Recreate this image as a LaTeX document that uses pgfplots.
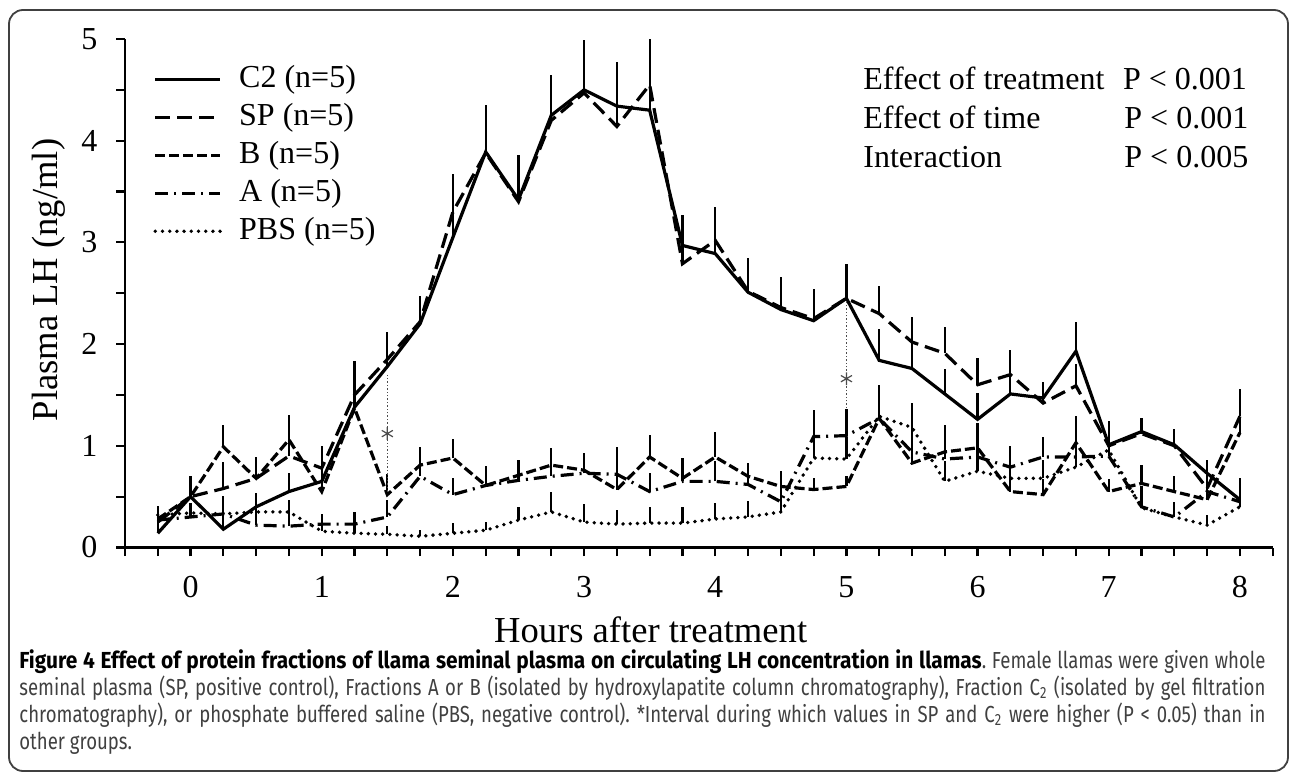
\documentclass[border=0pt]{standalone}
\usepackage{fontspec}
\setmainfont{Liberation Serif}
\newfontfamily\capfont[FakeStretch=0.8, BoldFeatures={FakeStretch=0.9}]{Fira Sans}
\usepackage{pgfplots}
\pgfplotsset{compat=1.18}
\usepackage{pgfplotstable}

\pgfplotstableread{
x c2 c2e sp spe b be a ae pbs pbse
-0.25 0.14 0.27 0.25 0.12 0.28 0.12 0.27 0.12 0.32 0.08
0 0.50 0.20 0.50 0.15 0.50 0.15 0.30 0.10 0.34 0.10
0.25 0.18 0.30 0.58 0.26 0.99 0.21 0.33 0.18 0.33 0.10
0.5 0.40 0.14 0.68 0.20 0.68 0.21 0.22 0.15 0.35 0.10
0.75 0.55 0.18 0.90 0.20 1.06 0.24 0.21 0.15 0.35 0.12
1 0.65 0.35 0.78 0.22 0.55 0.45 0.23 0.10 0.16 0.08
1.25 1.38 0.45 1.50 0.30 1.37 0.30 0.23 0.12 0.14 0.08
1.5 1.78 0.34 1.85 0.25 0.52 0.20 0.30 0.17 0.13 0.08
1.75 2.20 0.27 2.22 0.25 0.81 0.18 0.70 0.15 0.11 0.06
2 3.05 0.62 3.30 0.35 0.88 0.19 0.52 0.16 0.14 0.10
2.25 3.89 0.46 3.88 0.30 0.61 0.19 0.61 0.12 0.17 0.08
2.5 3.42 0.44 3.40 0.30 0.71 0.15 0.66 0.15 0.27 0.13
2.75 4.25 0.40 4.20 0.30 0.81 0.17 0.70 0.15 0.35 0.20
3 4.50 0.49 4.47 0.35 0.76 0.17 0.73 0.14 0.25 0.18
3.25 4.34 0.43 4.14 0.35 0.57 0.40 0.72 0.27 0.23 0.14
3.5 4.30 0.70 4.55 0.35 0.89 0.22 0.55 0.18 0.24 0.16
3.75 2.97 0.30 2.79 0.30 0.68 0.20 0.65 0.12 0.24 0.16
4 2.89 0.46 3.02 0.30 0.89 0.25 0.65 0.20 0.28 0.16
4.25 2.51 0.34 2.52 0.25 0.70 0.13 0.62 0.12 0.30 0.16
4.5 2.34 0.32 2.36 0.25 0.60 0.15 0.45 0.15 0.35 0.15
4.75 2.23 0.31 2.25 0.25 0.57 0.11 1.09 0.26 0.88 0.22
5 2.45 0.34 2.45 0.30 0.60 0.10 1.10 0.26 0.87 0.22
5.25 1.84 0.31 2.30 0.27 1.27 0.33 1.27 0.30 1.29 0.25
5.5 1.76 0.25 2.02 0.25 0.83 0.25 0.94 0.48 1.18 0.20
5.75 1.51 0.25 1.91 0.26 0.94 0.26 0.87 0.20 0.65 0.20
6 1.26 0.26 1.60 0.26 0.98 0.24 0.89 0.20 0.75 0.20
6.25 1.51 0.20 1.70 0.24 0.55 0.15 0.79 0.21 0.68 0.18
6.5 1.47 0.16 1.42 0.21 0.52 0.15 0.89 0.20 0.68 0.18
6.75 1.93 0.29 1.59 0.21 1.03 0.26 0.89 0.25 0.79 0.20
7 1.01 0.23 1.00 0.15 0.55 0.12 0.90 0.15 0.96 0.15
7.25 1.14 0.13 1.12 0.13 0.63 0.18 0.40 0.20 0.39 0.12
7.5 1.01 0.16 1.00 0.12 0.55 0.15 0.30 0.15 0.30 0.12
7.75 0.73 0.13 0.58 0.15 0.47 0.12 0.55 0.15 0.22 0.10
8 0.47 0.21 1.29 0.27 1.13 0.15 0.45 0.15 0.40 0.12
}\data

\tikzset{
  sC2/.style={black, line width=1.6pt, solid},
  sSP/.style={black, line width=1.6pt, dash pattern=on 7.5pt off 3.5pt},
  sB/.style={black, line width=1.6pt, dash pattern=on 5pt off 2pt},
  sA/.style={black, line width=1.6pt, dash pattern=on 6.5pt off 3pt on 1pt off 3pt},
  sPBS/.style={black, line width=1.9pt, line cap=round, dash pattern=on 0pt off 3.6pt},
}
\pgfplotsset{
  ebar/.style={error bars/.cd, y dir=plus, y explicit, error mark=none,
    error bar style={solid, line cap=butt, line width=1.1pt, black}},
}

\begin{document}
\frenchspacing
\begin{tikzpicture}
\useasboundingbox (0,0) rectangle (645pt,386pt);
\draw[line width=0.9pt, black!75, rounded corners=7pt] (4.5pt,0.5pt) rectangle (644pt,381pt);
\begin{axis}[
  at={(62.5pt,112.25pt)}, anchor=south west,
  scale only axis, width=573.85pt, height=254.25pt,
  xmin=-0.5, xmax=8.25, ymin=0, ymax=5,
  axis lines=left, axis line style={-, line width=1.2pt},
  xtick={0,1,...,8}, minor xtick={-0.5,-0.25,...,8.25},
  ytick={0,1,...,5}, minor ytick={0.5,1.5,...,4.5},
  tick align=outside, major tick length=4.3pt, minor tick length=4.3pt,
  every tick/.style={black, line width=1.1pt},
  /pgf/number format/assume math mode=true,
  ticklabel style={font=\fontsize{16}{16}\selectfont},
  xticklabel style={yshift=-6.5pt},
  yticklabel style={xshift=-6pt},
  xlabel={Hours after treatment},
  every axis x label/.style={font=\fontsize{18.3}{18.3}\selectfont, at={(rel axis cs:0.458,0)}, anchor=center, yshift=-41pt},
  ylabel={Plasma LH (ng/ml)},
  every axis y label/.style={font=\fontsize{18.3}{18.3}\selectfont, at={(rel axis cs:0,0.526)}, anchor=center, xshift=-38pt, rotate=90},
  legend style={at={(rel axis cs:0.0244,0.955)}, anchor=north west, draw=none, fill=none,
    inner sep=0pt, font=\fontsize{16}{16}\selectfont, row sep=2pt,
    nodes={inner sep=1pt, text height=11.5pt, text depth=3.5pt},
    /tikz/every odd column/.append style={column sep=7.5pt}},
  legend cell align=left,
  legend image code/.code={\draw[#1] (0pt,0pt) -- (32.5pt,0pt);},
  clip=false,
]
\addplot[sC2, ebar] table[x=x, y=c2, y error=c2e] {\data};
\addlegendentry{C2 (n=5)}
\addplot[sSP, ebar] table[x=x, y=sp, y error=spe] {\data};
\addlegendentry{SP (n=5)}
\addplot[sB, ebar] table[x=x, y=b, y error=be] {\data};
\addlegendentry{B (n=5)}
\addplot[sA, ebar] table[x=x, y=a, y error=ae] {\data};
\addlegendentry{A (n=5)}
\addplot[sPBS, ebar] table[x=x, y=pbs, y error=pbse] {\data};
\addlegendentry{PBS (n=5)}
\addplot[forget plot, black!70, line width=0.7pt, densely dotted] coordinates {(1.5,0.55) (1.5,1.72)};
\addplot[forget plot, black!70, line width=0.7pt, densely dotted] coordinates {(5,1.37) (5,2.42)};
\addplot[forget plot, only marks, mark=asterisk, mark size=3.2pt, black!70, mark options={line width=0.6pt, solid}] coordinates {(1.5,1.12) (5,1.66)};
\end{axis}
\begin{scope}[every node/.style={anchor=base west, inner sep=0pt, font=\fontsize{16}{16}\selectfont}]
\node at (431.5pt,341pt) {Effect of treatment};
\node at (561.3pt,341pt) {P < 0.001};
\node at (431.5pt,321.5pt) {Effect of time};
\node at (562pt,321.5pt) {P < 0.001};
\node at (431.5pt,302pt) {Interaction};
\node at (562pt,302pt) {P < 0.005};
\end{scope}
\begin{scope}[every node/.style={anchor=base west, inner sep=0pt, text=black!75, font=\capfont\fontsize{11.6}{11.6}\selectfont\frenchspacing}]
\node at (9.5pt,52pt) {\makebox[623pt][s]{\textcolor{black}{\bfseries Figure 4 Effect of protein fractions of llama seminal plasma on circulating LH concentration in llamas}. Female llamas were given whole}};
\node at (9.5pt,38.5pt) {\makebox[623pt][s]{seminal plasma (SP, positive control), Fractions A or B (isolated by hydroxylapatite column chromatography), Fraction C\textsubscript{2} (isolated by gel filtration}};
\node at (9.5pt,25pt) {\makebox[623pt][s]{chromatography), or phosphate buffered saline (PBS, negative control). *Interval during which values in SP and C\textsubscript{2} were higher (P < 0.05) than in}};
\node at (9.5pt,11.5pt) {other groups.};
\end{scope}
\end{tikzpicture}
\end{document}
